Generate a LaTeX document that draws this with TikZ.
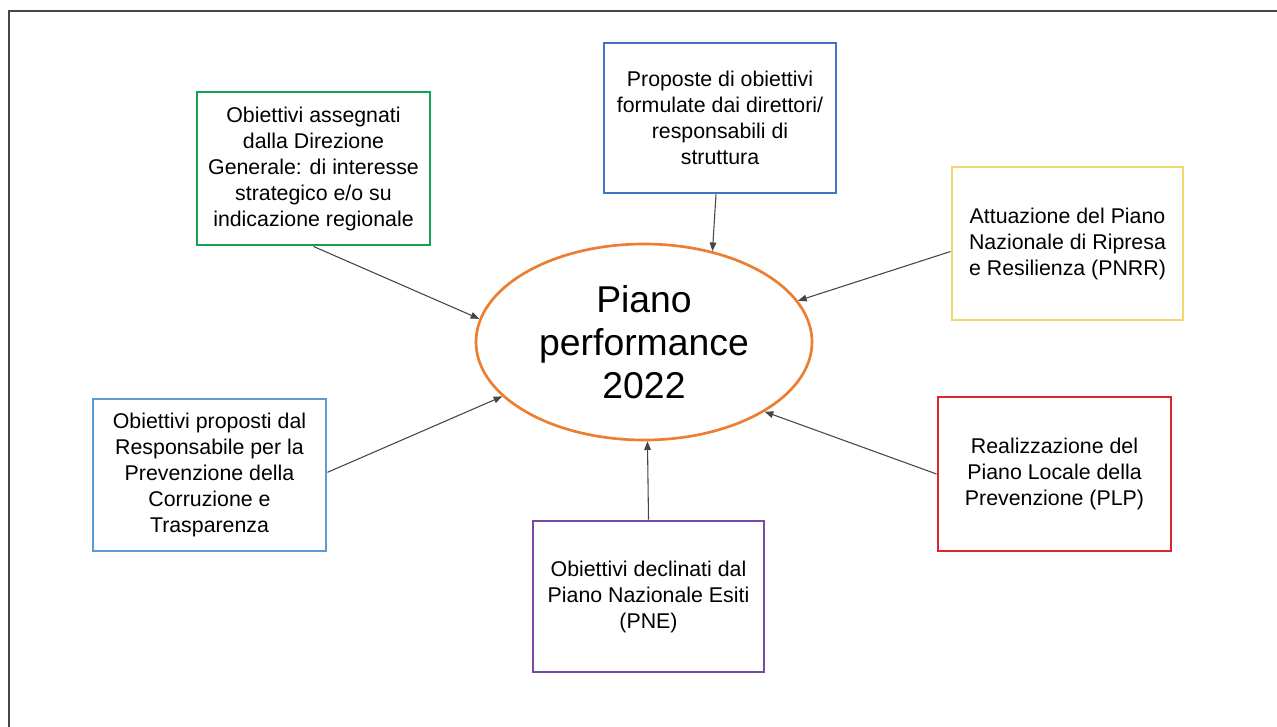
\documentclass[tikz,border=0pt]{standalone}
\usepackage{fontspec}
\setmainfont{Liberation Sans}
\usetikzlibrary{arrows.meta,shapes.geometric}
\definecolor{boxgreen}{RGB}{20,164,80}
\definecolor{boxblue}{RGB}{68,114,196}
\definecolor{boxyellow}{RGB}{242,214,110}
\definecolor{boxred}{RGB}{222,36,44}
\definecolor{boxpurple}{RGB}{120,74,165}
\definecolor{boxsky}{RGB}{91,155,213}
\definecolor{ringorange}{RGB}{237,125,49}
\definecolor{linegray}{RGB}{70,70,70}

\begin{document}
\begin{tikzpicture}[x=0.75pt,y=-0.75pt,
  srcbox/.style={draw=#1, line width=2.2pt, inner sep=0pt, align=center,
    font=\fontsize{16}{19.5}\selectfont, text=black},
  feed/.style={draw=linegray, line width=0.8pt,
    -{Triangle[length=6.5pt,width=5pt]}},
  frameline/.style={draw=linegray, line width=1.6pt}]

\useasboundingbox (0,0) rectangle (1277,727);
\fill[white] (0,0) rectangle (1277,727);
\draw[frameline] (9,727) -- (9,11) -- (1277,11);

% central plan
\node[ellipse, draw=ringorange, line width=2pt, inner sep=0pt,
  minimum width=252pt, minimum height=147pt, align=center,
  font=\fontsize{28}{32.5}\selectfont] (plan) at (644,342)
  {Piano\\performance\\2022};

% sources of objectives
\node[srcbox=boxgreen, minimum width=174.75pt, minimum height=114.75pt]
  (dg) at (313.5,168.5)
  {Obiettivi assegnati\\dalla Direzione\\Generale: di interesse\\strategico e/o su\\indicazione regionale};
\node[srcbox=boxblue, minimum width=174pt, minimum height=112.5pt]
  (dir) at (720,118)
  {Proposte di obiettivi\\formulate dai direttori/\\responsabili di\\struttura};
\node[srcbox=boxyellow, minimum width=173.25pt, minimum height=114.75pt]
  (pnrr) at (1067.5,243.5)
  {Attuazione del Piano\\Nazionale di Ripresa\\e Resilienza (PNRR)};
\node[srcbox=boxred, minimum width=174.75pt, minimum height=115.5pt]
  (plp) at (1054.5,474)
  {Realizzazione del\\Piano Locale della\\Prevenzione (PLP)};
\node[srcbox=boxpurple, minimum width=173.25pt, minimum height=113.25pt]
  (pne) at (648.5,596.5)
  {Obiettivi declinati dal\\Piano Nazionale Esiti\\(PNE)};
\node[srcbox=boxsky, minimum width=174.75pt, minimum height=114pt]
  (rpct) at (209.5,475)
  {Obiettivi proposti dal\\Responsabile per la\\Prevenzione della\\Corruzione e\\Trasparenza};

% connectors
\draw[feed] (dg.south) -- (plan.172.5);
\draw[feed] ([xshift=-3pt]dir.south) -- (plan.53.6);
\draw[feed] ([yshift=-6pt]pnrr.west) -- (plan.15.5);
\draw[feed] (plp.west) -- (plan.-30.5);
\draw[feed] (pne.north) -- (plan.-88);
\draw[feed] ([yshift=2pt]rpct.east) -- (plan.201.5);
\end{tikzpicture}
\end{document}
